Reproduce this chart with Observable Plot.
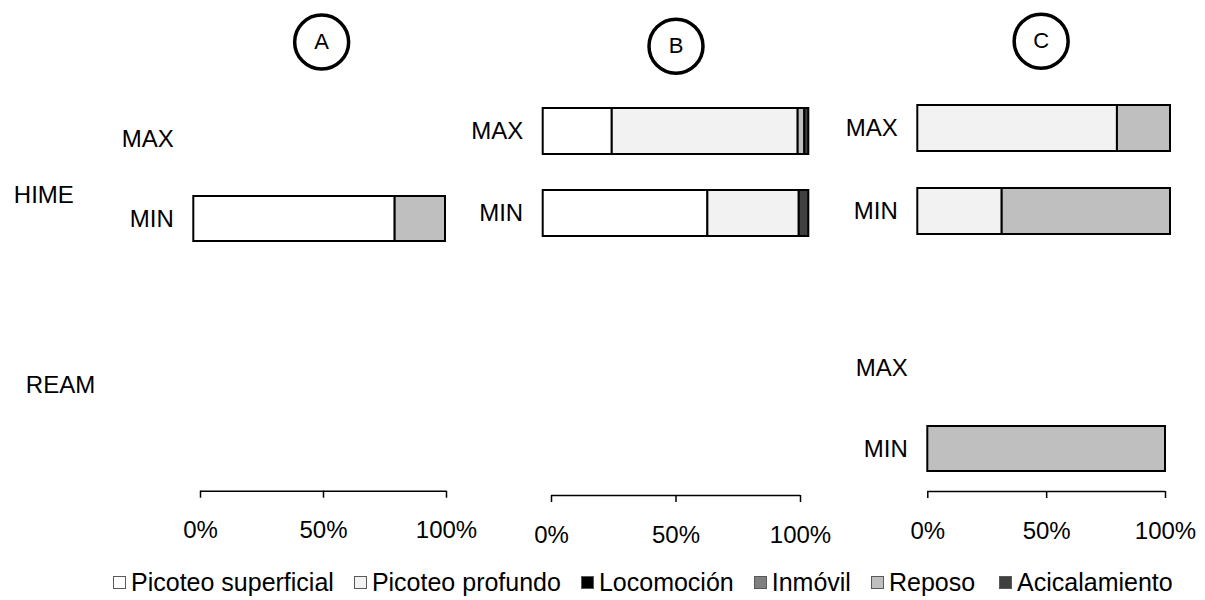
<!DOCTYPE html>
<html>
<head>
<meta charset="utf-8">
<script src="https://cdn.jsdelivr.net/npm/d3@7"></script>
<script src="https://cdn.jsdelivr.net/npm/@observablehq/plot@0.6"></script>
<style>
  body { margin: 0; background: #fff; font-family: "Liberation Sans", Arial, sans-serif; }
  #chart { position: relative; width: 1205px; height: 600px; overflow: hidden; }
  #legend { position: absolute; left: 113px; top: 568px; height: 28px; display: flex; align-items: center; gap: 20px; font-size: 25px; line-height: 1; color: #000; white-space: nowrap; }
  #legend .item { display: flex; align-items: center; }
  #legend .sw { width: 11px; height: 11px; border: 1px solid #595959; margin-right: 5px; box-sizing: content-box; }
</style>
</head>
<body>
<div id="chart"><div id="legend"></div></div>
<script>
// ---- data ----
const panels = ["A", "B", "C"];
const groups = ["HIME", "REAM"];
const levels = ["MAX", "MIN"];
const behaviors = ["Picoteo superficial", "Picoteo profundo", "Locomoción", "Inmóvil", "Reposo", "Acicalamiento"];
const colors = ["#ffffff", "#f2f2f2", "#000000", "#808080", "#bfbfbf", "#404040"];
const tickValues = [0, 50, 100];

// one entry per drawn bar
const rowPanel = ["A", "B", "B", "C", "C", "C"];
const rowGroup = ["HIME", "HIME", "HIME", "HIME", "HIME", "REAM"];
const rowLevel = ["MIN", "MAX", "MIN", "MAX", "MIN", "MIN"];
const superficial   = [80, 26, 62,   0,    0,    0];
const profundo      = [0,  70, 34.4, 79,   33.4, 0];
const locomocion    = [0,  0,  0,    0,    0,    0];
const inmovil       = [0,  0,  0,    0,    0,    0];
const reposo        = [20, 2.5, 0,   21,   66.6, 100];
const acicalamiento = [0,  1.5, 3.6, 0,    0,    0];

const seriesValues = [superficial, profundo, locomocion, inmovil, reposo, acicalamiento];
const data = [];
behaviors.forEach((b, j) => rowPanel.forEach((p, i) => {
  const v = seriesValues[j][i];
  if (v > 0) data.push({panel: p, group: rowGroup[i], level: rowLevel[i], behavior: b, value: v});
}));

// ---- layout helpers ----
const FONT = "'Liberation Sans', Arial, sans-serif";
const chart = document.getElementById("chart");
function place(opts, box, frame) {
  const svg = Plot.plot({
    ...opts,
    width: box.w, height: box.h,
    marginLeft: frame.x0 - box.x, marginRight: box.x + box.w - frame.x1,
    marginTop: frame.y0 - box.y, marginBottom: box.y + box.h - frame.y1,
    style: {background: "none", overflow: "visible", fontFamily: FONT, color: "black"}
  });
  svg.style.position = "absolute";
  svg.style.left = box.x + "px";
  svg.style.top = box.y + "px";
  chart.appendChild(svg);
}

const colorScale = {domain: behaviors, range: colors, type: "ordinal"};

function barPlot(panel, group, box, frame, circle) {
  const marks = [
    Plot.barX(data.filter(d => d.panel === panel && d.group === group),
      Plot.stackX({x: "value", y: "level", fill: "behavior", stroke: "black", strokeWidth: 2})),
    Plot.axisY({tickSize: 0, tickPadding: 20, fontSize: 24, fill: "black", label: null})
  ];
  if (circle) {
    marks.push(Plot.dot([panel], {frameAnchor: "top", r: 27, stroke: "black", strokeWidth: 3.5, fill: "white", dy: circle.dy, dx: circle.dx || 0}));
    marks.push(Plot.text([panel], {frameAnchor: "top", lineAnchor: "middle", text: d => d, fontSize: 22, fill: "black", dy: circle.dy, dx: circle.dx || 0}));
  }
  place({
    x: {domain: [0, 100], axis: null},
    y: {domain: levels, paddingInner: 0.44, paddingOuter: 0.22, label: null},
    color: colorScale,
    marks
  }, box, frame);
}

function axisPlot(box, frame) {
  place({
    x: {domain: [0, 100], label: null},
    y: {domain: [0, 1], axis: null},
    marks: [
      Plot.ruleY([0], {stroke: "black", strokeWidth: 1.5}),
      Plot.axisX({ticks: tickValues, tickFormat: d => d + "%", tickSize: 7, tickPadding: 23, fontSize: 24, stroke: "black", strokeWidth: 1.5, fill: "black", label: null})
    ]
  }, box, frame);
}

// group labels
place({
  y: {domain: groups, type: "point", padding: 0.5, axis: null},
  marks: [
    Plot.text([groups[0]], {y: d => d, text: d => d, frameAnchor: "left", textAnchor: "start", fontSize: 24, fill: "black"}),
    Plot.text([groups[1]], {y: d => d, text: d => d, frameAnchor: "left", textAnchor: "start", fontSize: 24, fill: "black", dx: 12})
  ]
}, {x: 0, y: 90, w: 110, h: 400}, {x0: 13.3, x1: 110, y0: 98.95, y1: 480.35});

// panels
barPlot("A", "HIME", {x: 100, y: 0, w: 360, h: 270}, {x0: 193.3, x1: 445, y0: 98, y1: 259}, {dy: -56.5, dx: 2});
barPlot("B", "HIME", {x: 455, y: 0, w: 365, h: 270}, {x0: 542.7, x1: 808.3, y0: 89.85, y1: 254.5}, {dy: -44.2});
barPlot("C", "HIME", {x: 830, y: 0, w: 350, h: 270}, {x0: 917.3, x1: 1170, y0: 86.7, y1: 253.3}, {dy: -46, dx: -3});
barPlot("C", "REAM", {x: 830, y: 300, w: 350, h: 200}, {x0: 927.3, x1: 1165, y0: 326.75, y1: 489.75}, null);

// axes
axisPlot({x: 170, y: 480, w: 320, h: 70}, {x0: 200, x1: 446, y0: 490.7, y1: 490.7});
axisPlot({x: 520, y: 480, w: 320, h: 70}, {x0: 551, x1: 800, y0: 495, y1: 495});
axisPlot({x: 895, y: 480, w: 308, h: 70}, {x0: 927.3, x1: 1165, y0: 491, y1: 491});

// legend
const legend = document.getElementById("legend");
behaviors.forEach((b, i) => {
  const item = document.createElement("div");
  item.className = "item";
  if (i === behaviors.length - 1) item.style.marginLeft = "4px";
  const sw = document.createElement("span");
  sw.className = "sw";
  sw.style.background = colors[i];
  const t = document.createElement("span");
  t.textContent = b;
  item.appendChild(sw); item.appendChild(t);
  legend.appendChild(item);
});
</script>
</body>
</html>
